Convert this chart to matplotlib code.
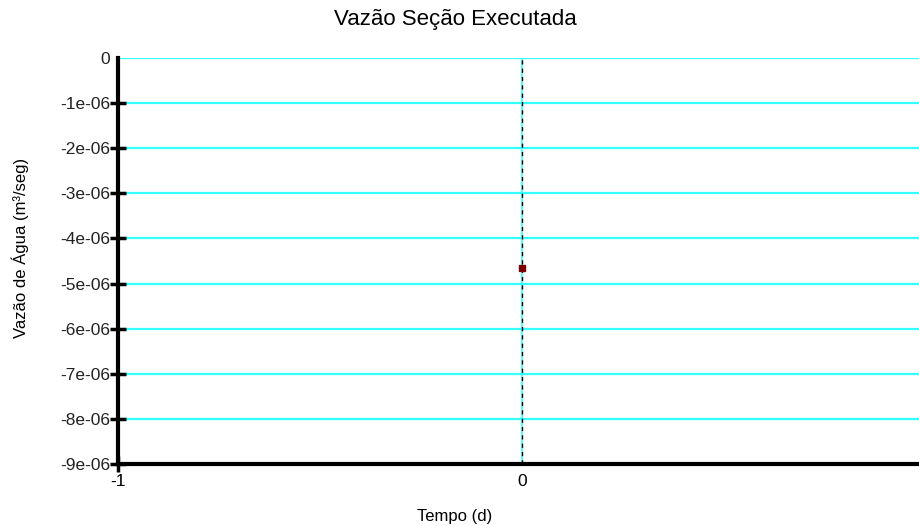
import matplotlib
matplotlib.use('Agg')
import matplotlib.pyplot as plt

# Data
tempo = [0]
vazao = [-4.65e-06]
y_ticks = [0, -1e-06, -2e-06, -3e-06, -4e-06, -5e-06, -6e-06, -7e-06, -8e-06, -9e-06]
y_labels = ['0', '-1e-06', '-2e-06', '-3e-06', '-4e-06', '-5e-06', '-6e-06', '-7e-06', '-8e-06', '-9e-06']
x_ticks = [-1, 0]
x_labels = ['-1', '0']

plt.rcParams['font.family'] = ['Liberation Sans', 'DejaVu Sans']

fig = plt.figure(figsize=(9.2, 5.26), dpi=100)
ax = fig.add_axes([118 / 920, 62 / 526, 1 - 118 / 920, 406 / 526])

# horizontal grid lines
for yv in y_ticks:
    ax.axhline(yv, color='#33ffff', linewidth=1.6, zorder=1)

# vertical line at the data point (cyan with black dashes)
for xv in tempo:
    ax.axvline(xv, color='#33ffff', linewidth=1.2, zorder=2)
    ax.axvline(xv, color='black', linewidth=1.0, linestyle=(0, (3, 3)), zorder=3)

ax.plot(tempo, vazao, linestyle='none', marker='s', markersize=5,
        color='#7a0000', zorder=4)

ax.set_xlim(-1, 0.985)
ax.set_ylim(-9e-06, 0)
ax.set_yticks(y_ticks)
ax.set_yticklabels(y_labels)
ax.set_xticks(x_ticks)
ax.set_xticklabels(x_labels)

for side in ['top', 'right']:
    ax.spines[side].set_visible(False)
for side in ['left', 'bottom']:
    ax.spines[side].set_linewidth(3)
    ax.spines[side].set_zorder(5)

ax.tick_params(axis='both', direction='inout', length=11, width=2.5,
               labelsize=12.5, pad=0, colors='black')
ax.tick_params(axis='y', labelcolor='#222222')
ax.tick_params(axis='x', pad=2)
ax.xaxis.get_major_ticks()[1].tick1line.set_visible(False)
ax.yaxis.get_major_ticks()[0].tick1line.set_visible(False)

fig.text(455 / 920, 1 - 20 / 526, 'Vazão Seção Executada', fontsize=16,
         ha='center', va='center')
fig.text(455 / 920, 1 - 517 / 526, 'Tempo (d)', fontsize=12,
         ha='center', va='center')
fig.text(20 / 920, 1 - 248 / 526, 'Vazão de Água (m³/seg)', fontsize=12,
         ha='center', va='center', rotation=90)
ax.patch.set_alpha(0)

fig.savefig('out.png', dpi=100)
